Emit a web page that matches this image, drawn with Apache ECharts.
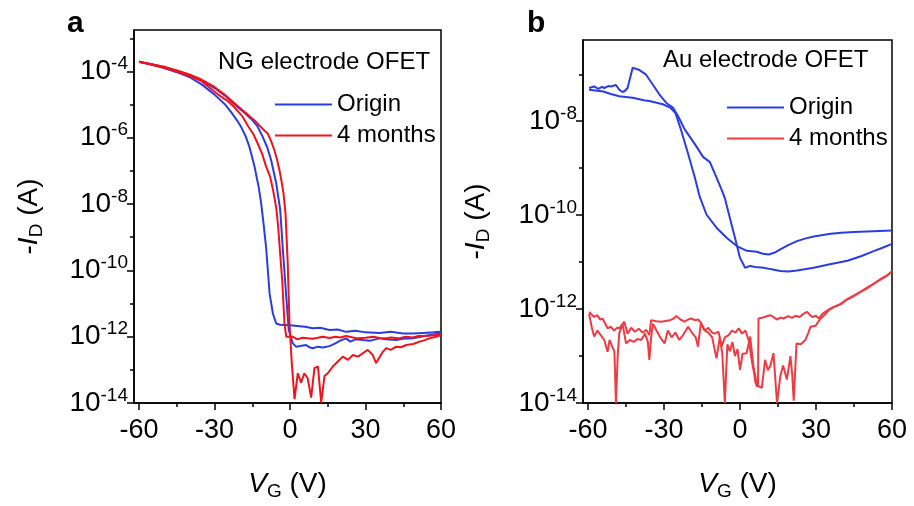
<!DOCTYPE html>
<html>
<head>
<meta charset="utf-8">
<script src="https://cdn.jsdelivr.net/npm/echarts@6/dist/echarts.min.js"></script>
<style>
  html, body { margin: 0; padding: 0; background: #ffffff; }
  #chart { width: 914px; height: 506px; }
</style>
</head>
<body>
<div id="chart"></div>
<script>
// Transfer curves (-I_D vs V_G) of OFETs, fresh ("Origin") and after 4 months.
const FONT = '"Liberation Sans", Arial, sans-serif';
const BLUE = '#2a3de0';
const RED_A = '#f0121c';
const RED_B = '#ee3b44';

// Axis ticks
const xTicks = [-60, -30, 0, 30, 60];
const xMinorTicks = [-45, -15, 15, 45];
const yTicksA = [1e-14, 1e-12, 1e-10, 1e-8, 1e-6, 1e-4];
const yMinorTicksA = [1e-13, 1e-11, 1e-9, 1e-7, 1e-5, 1e-3];
const yTicksB = [1e-14, 1e-12, 1e-10, 1e-8];
const yMinorTicksB = [1e-13, 1e-11, 1e-9, 1e-7];

// Panel a: NG electrode OFET, [V_G (V), -I_D (A)]
const ngOriginSweep1 = [[-60,1.95e-4],[-55,1.6e-4],[-50,1.26e-4],[-45,9.5e-5],[-40,6.8e-5],[-35,4.0e-5],[-30,2.0e-5],[-26,1.05e-5],[-23.4,5.9e-6],[-21,3.3e-6],[-19.4,2.1e-6],[-17.5,1.05e-6],[-16.1,5.2e-7],[-14.1,1.35e-7],[-12.5,3.4e-8],[-11.5,1.1e-8],[-10.5,2.5e-9],[-9.5,4.9e-10],[-8.1,1.95e-11],[-6.8,5.0e-12],[-5.5,2.5e-12],[-4,2.3e-12],[-2,2.25e-12],[0,2.2e-12],[3,2.1e-12],[6,2.0e-12],[9,1.8e-12],[12,1.85e-12],[15.7,1.6e-12],[19,1.65e-12],[22.3,1.4e-12],[26,1.5e-12],[30,1.35e-12],[35.6,1.3e-12],[40,1.4e-12],[45,1.25e-12],[48.8,1.25e-12],[53,1.3e-12],[57,1.35e-12],[60,1.4e-12]];
const ngOriginSweep2 = [[-60,1.95e-4],[-55,1.66e-4],[-50,1.35e-4],[-45,1.05e-4],[-40,7.9e-5],[-35,5.4e-5],[-30,3.16e-5],[-26,1.9e-5],[-22.1,1.02e-5],[-18,5.6e-6],[-15.4,3.7e-6],[-13,2.24e-6],[-10.8,1.05e-6],[-9,5.0e-7],[-7.5,2.1e-7],[-5.5,4.3e-8],[-3.9,6.8e-9],[-2.9,4.9e-10],[-1.5,1.6e-11],[-0.5,1.6e-12],[1.1,6.3e-13],[2.4,5.0e-13],[4,5.2e-13],[6.4,5.6e-13],[8,4.7e-13],[9.1,4.5e-13],[11,5.0e-13],[13,4.7e-13],[15.7,5.2e-13],[18,6.3e-13],[20,7.6e-13],[22.3,8.9e-13],[24,7.1e-13],[26,8.3e-13],[28.9,7.9e-13],[32,7.6e-13],[35.6,8.9e-13],[38,8.3e-13],[42.2,7.9e-13],[45,8.7e-13],[48.8,8.9e-13],[52,1.0e-12],[55.4,1.12e-12],[58,1.2e-12],[60,1.3e-12]];
const ngAgedSweep1 = [[-60,1.95e-4],[-55,1.62e-4],[-50,1.29e-4],[-45,1.0e-4],[-40,7.4e-5],[-35,5.0e-5],[-28.7,2.04e-5],[-25,1.32e-5],[-22.1,8.3e-6],[-19,4.5e-6],[-16.8,2.34e-6],[-14.5,1.26e-6],[-12.8,6.6e-7],[-11,3.16e-7],[-9.5,1.35e-7],[-8,7.1e-8],[-6.8,2.8e-8],[-5.5,7.9e-9],[-4.8,2.5e-9],[-3.1,4.9e-11],[-2.2,2.5e-12],[-1.5,1.0e-12],[-1,8.9e-13],[1,1.0e-12],[3,8.3e-13],[5,9.3e-13],[7,8.9e-13],[9,8.7e-13],[11,9.3e-13],[13,1.0e-12],[15.7,9.1e-13],[18,1.0e-12],[20,9.5e-13],[22.3,1.05e-12],[25,9.5e-13],[27,8.9e-13],[30,9.3e-13],[33,1.0e-12],[35.6,9.1e-13],[38,8.9e-13],[40,9.5e-13],[43,8.9e-13],[46,1.0e-12],[48.8,9.5e-13],[51,1.05e-12],[55.4,1.07e-12],[58,1.12e-12],[60,1.17e-12]];
const ngAgedSweep2 = [[-60,1.95e-4],[-55,1.66e-4],[-50,1.38e-4],[-45,1.07e-4],[-40,8.1e-5],[-35,5.6e-5],[-30,3.4e-5],[-26,2.0e-5],[-22.1,1.1e-5],[-18,6.0e-6],[-14.1,3.3e-6],[-11,1.9e-6],[-8.8,1.32e-6],[-7.5,7.9e-7],[-6.2,4.2e-7],[-5.2,2.24e-7],[-4.2,1.05e-7],[-3.4,5.0e-8],[-2.6,2.14e-8],[-1.8,5.4e-9],[-0.9,1.55e-10],[-0.2,2.5e-12],[0.7,1.6e-13],[1.8,1.3e-14],[3.1,7.9e-14],[4.4,4.1e-14],[5.7,7.9e-14],[7,5.6e-14],[8.4,1.45e-14],[9.7,1.12e-13],[11.1,1.26e-13],[12.4,1.02e-14],[13.7,6.5e-14],[15,7.9e-14],[17,1.26e-13],[19,1.78e-13],[21,2.5e-13],[23,2.0e-13],[25,2.8e-13],[27,2.5e-13],[28.9,3.16e-13],[30.9,4.0e-13],[32.9,2.8e-13],[34.2,1.6e-13],[36.9,3.5e-13],[38.2,4.5e-13],[40,4.0e-13],[42.2,5.0e-13],[44,4.8e-13],[46.2,5.6e-13],[49,6.0e-13],[51.4,7.1e-13],[53,7.6e-13],[55.4,8.9e-13],[58,1.0e-12],[60,1.12e-12]];

// Panel b: Au electrode OFET, [V_G (V), -I_D (A)]
const auOriginSweep1 = [[-59.6,5.1e-8],[-57.6,5.5e-8],[-56,4.9e-8],[-54.5,5.4e-8],[-53.6,5.1e-8],[-52,5.6e-8],[-51,5.5e-8],[-49,5.9e-8],[-47.7,4.7e-8],[-46.4,4.2e-8],[-45.5,4.4e-8],[-44.4,5.1e-8],[-43.5,7.9e-8],[-42.4,1.38e-7],[-39.7,1.23e-7],[-37.1,9.8e-8],[-34.4,6.0e-8],[-31.8,3.7e-8],[-29.1,2.45e-8],[-26.5,1.95e-8],[-24.5,1.29e-8],[-21.9,6.8e-9],[-17.9,3.3e-9],[-14.6,1.74e-9],[-11.9,1.35e-9],[-9.9,7.6e-10],[-7.2,3.4e-10],[-6,2.3e-10],[-4,8.7e-11],[-2,3.3e-11],[0,1.23e-11],[2,7.6e-12],[4,8.3e-12],[6,7.9e-12],[9.3,7.6e-12],[12,7.1e-12],[15.9,6.5e-12],[19,6.3e-12],[22.5,6.6e-12],[26,7.1e-12],[29.1,7.6e-12],[35,8.9e-12],[42.4,1.07e-11],[48,1.35e-11],[53,1.74e-11],[56,2.0e-11],[60,2.45e-11]];
const auOriginSweep2 = [[-59.6,4.7e-8],[-57,4.5e-8],[-54,4.3e-8],[-51,3.8e-8],[-47.7,3.4e-8],[-42.4,3.16e-8],[-38,2.8e-8],[-35.8,2.7e-8],[-30.5,2.3e-8],[-27.6,1.95e-8],[-25.5,1.5e-8],[-23.2,6.3e-9],[-20.5,2.04e-9],[-17.9,6.5e-10],[-15.9,2.45e-10],[-13.2,1.02e-10],[-9.3,5.4e-11],[-5.3,3.3e-11],[-1.3,2.2e-11],[2.7,1.74e-11],[6.6,1.66e-11],[9,1.51e-11],[11.3,1.45e-11],[13.5,1.58e-11],[15.9,1.86e-11],[19,2.3e-11],[22.5,2.8e-11],[26,3.2e-11],[29.1,3.5e-11],[35.8,4.0e-11],[40,4.2e-11],[45,4.4e-11],[50,4.5e-11],[55,4.6e-11],[60,4.7e-11]];
const auAgedSweep1 = [[-59.6,8.7e-13],[-58.5,7.6e-13],[-57.6,6.8e-13],[-56.3,7.4e-13],[-55.3,6.0e-13],[-54.3,6.3e-13],[-53.3,5.0e-13],[-52.3,3.9e-13],[-51,4.2e-13],[-49.7,3.5e-13],[-48.5,4.0e-13],[-47.7,3.9e-13],[-46.5,4.7e-13],[-45.7,5.4e-13],[-44.4,3.0e-13],[-43,4.0e-13],[-41.5,3.3e-13],[-40,3.8e-13],[-38.5,3.16e-13],[-37,3.6e-13],[-35.8,2.8e-13],[-35.1,5.8e-13],[-33,5.5e-13],[-31.1,5.4e-13],[-29.5,5.6e-13],[-27.6,5.8e-13],[-26.2,6.3e-13],[-25.2,7.1e-13],[-23.5,6.0e-13],[-21.9,5.4e-13],[-20.5,6.0e-13],[-19.2,6.3e-13],[-17.8,5.8e-13],[-16.5,6.0e-13],[-15.3,5.0e-13],[-13.9,3.5e-13],[-12.5,4.0e-13],[-11,3.16e-13],[-9.9,3.0e-13],[-8.5,3.3e-13],[-7.2,1.6e-13],[-6,2.5e-13],[-4.5,2.8e-13],[-3.2,3.5e-13],[-1.8,3.16e-13],[-0.5,3.9e-13],[0.8,3.0e-13],[2.1,3.5e-13],[3.4,2.2e-13],[4.8,7.1e-14],[5.5,4.5e-14],[6.1,2.7e-14],[6.8,2.2e-14],[7.1,2.5e-14],[7.3,6.3e-13],[9,6.6e-13],[11.9,7.4e-13],[13,6.9e-13],[14.5,6.0e-13],[16,6.6e-13],[17.2,6.3e-13],[19,7.1e-13],[20.5,6.5e-13],[22,7.2e-13],[23.5,6.8e-13],[25,7.9e-13],[26.5,8.7e-13],[27.5,7.6e-13],[28.5,6.8e-13],[30,7.2e-13],[31.1,6.3e-13],[32.5,7.9e-13],[34.4,9.3e-13],[36,1.05e-12],[39.7,1.29e-12],[42,1.58e-12],[45,1.95e-12],[47.5,2.34e-12],[50.3,2.9e-12],[53,3.55e-12],[55.6,4.4e-12],[58,5.2e-12],[60,6.3e-12]];
const auAgedSweep2 = [[-59.6,7.9e-13],[-58.5,4.0e-13],[-57.6,2.6e-13],[-56.3,3.5e-13],[-55,2.8e-13],[-53.6,2.2e-13],[-52.3,1.23e-13],[-51.5,2.2e-13],[-50.5,1.6e-13],[-49.6,1.26e-13],[-49,1.0e-14],[-48.3,1.0e-13],[-47.7,3.0e-13],[-46.4,4.9e-13],[-45,1.86e-13],[-43.5,2.2e-13],[-42,2.0e-13],[-40.5,2.3e-13],[-39,2.2e-13],[-37.5,3.0e-13],[-36.4,2.0e-13],[-35.8,8.3e-14],[-35.1,2.5e-13],[-34.4,4.9e-13],[-33,3.5e-13],[-31.5,2.5e-13],[-29.8,1.86e-13],[-28.5,3.5e-13],[-27,2.5e-13],[-25.5,3.16e-13],[-24,2.2e-13],[-22.5,2.8e-13],[-20.5,4.2e-13],[-19,3.16e-13],[-17.5,2.5e-13],[-16.6,1.58e-13],[-15.5,4.9e-13],[-14,3.5e-13],[-12.5,3.16e-13],[-11,2.5e-13],[-9.3,8.9e-14],[-8,2.5e-13],[-7,1.12e-13],[-6,1.0e-14],[-5,1.78e-13],[-4,1.26e-13],[-3,2.0e-13],[-2,1.0e-13],[-1,1.41e-13],[0,5.1e-14],[1,1.12e-13],[2.6,1.15e-13],[4,2.6e-13],[5.3,6.0e-14],[6.3,3.16e-14],[7.3,2.3e-14],[8.6,2.1e-14],[9.9,8.3e-14],[11,5.0e-14],[12,6.3e-14],[13.2,1.15e-13],[14.6,1.0e-14],[15.9,3.7e-14],[17,6.3e-14],[18.5,3.16e-14],[19.9,1.0e-13],[20.6,4.0e-14],[21.2,1.12e-14],[22.3,1.86e-13],[24,1.78e-13],[25.8,2.2e-13],[27,3.16e-13],[27.8,4.2e-13],[29.8,4.4e-13],[31.8,6.3e-13],[33.5,7.6e-13],[35,9.5e-13],[37,1.1e-12],[39.7,1.26e-12],[42,1.58e-12],[45,1.9e-12],[47.5,2.3e-12],[50.3,2.8e-12],[53,3.5e-12],[55.6,4.3e-12],[58,5.1e-12],[60,6.5e-12]];

const chart = echarts.init(document.getElementById('chart'), null, { renderer: 'canvas' });

function powLabel(v) {
  const e = Math.round(Math.log10(v));
  return '{b|10}{s|' + e + '}';
}

const powRich = {
  b: { fontFamily: FONT, fontSize: 28, color: '#000', lineHeight: 34 },
  s: { fontFamily: FONT, fontSize: 19, color: '#000', lineHeight: 12, verticalAlign: 'top' }
};

const titleRich = {
  i: { fontFamily: FONT, fontSize: 28, fontStyle: 'italic', color: '#000', lineHeight: 34 },
  s: { fontFamily: FONT, fontSize: 19, color: '#000', lineHeight: 14, verticalAlign: 'bottom' },
  t: { fontFamily: FONT, fontSize: 28, color: '#000', lineHeight: 34 }
};

function xAxisPair(gridIndex) {
  return [
    {
      type: 'value', gridIndex, min: -62, max: 60,
      name: '{i|V}{s|G}{t| (V)}', nameLocation: 'middle', nameGap: 64,
      nameTextStyle: { rich: titleRich },
      axisLine: { show: true, onZero: false, lineStyle: { color: '#000', width: 1.5 } },
      axisTick: { show: true, inside: false, length: 7, customValues: xTicks, lineStyle: { color: '#000', width: 1.5 } },
      axisLabel: { fontFamily: FONT, color: '#000', fontSize: 27, margin: 14, customValues: xTicks },
      splitLine: { show: false }
    },
    {
      type: 'value', gridIndex, min: -62, max: 60, position: 'bottom',
      axisLine: { show: false, onZero: false },
      axisTick: { show: true, inside: false, length: 4, customValues: xMinorTicks, lineStyle: { color: '#000', width: 1.5 } },
      axisLabel: { show: false },
      splitLine: { show: false }
    }
  ];
}

function yAxisPair(gridIndex, max, ticks, minor, nameGap) {
  return [
    {
      type: 'log', logBase: 10, gridIndex, min: 1e-14, max, position: 'left',
      name: '{t|-}{i|I}{s|D}{t| (A)}', nameLocation: 'middle', nameGap, nameRotate: 90,
      nameTextStyle: { rich: titleRich },
      axisLine: { show: true, onZero: false, lineStyle: { color: '#000', width: 1.5 } },
      axisTick: { show: true, inside: false, length: 7, customValues: ticks, lineStyle: { color: '#000', width: 1.5 } },
      axisLabel: { margin: 6, customValues: ticks, formatter: powLabel, rich: powRich },
      splitLine: { show: false }
    },
    {
      type: 'log', logBase: 10, gridIndex, min: 1e-14, max, position: 'left',
      axisLine: { show: false, onZero: false },
      axisTick: { show: true, inside: false, length: 4, customValues: minor, lineStyle: { color: '#000', width: 1.5 } },
      axisLabel: { show: false },
      splitLine: { show: false }
    }
  ];
}

function curve(name, data, color, xi, yi) {
  return {
    type: 'line', name, data, xAxisIndex: xi, yAxisIndex: yi,
    symbol: 'none', smooth: false, clip: true,
    lineStyle: { color, width: 2 }, itemStyle: { color },
    emphasis: { disabled: true }
  };
}

const legendBase = {
  orient: 'vertical', itemWidth: 57, itemHeight: 2, itemGap: 6,
  selectedMode: false, icon: 'rect',
  textStyle: { fontFamily: FONT, fontSize: 24, color: '#000', lineHeight: 25 }
};

const option = {
  animation: false,
  backgroundColor: '#ffffff',
  grid: [
    { left: 134, top: 30, width: 307, height: 377, show: true, borderColor: '#000', borderWidth: 1.5, containLabel: false },
    { left: 583, top: 40, width: 309, height: 367, show: true, borderColor: '#000', borderWidth: 1.5, containLabel: false }
  ],
  xAxis: [...xAxisPair(0), ...xAxisPair(1)],
  yAxis: [
    ...yAxisPair(0, Math.pow(10, -2.75), yTicksA, yMinorTicksA, 88),
    ...yAxisPair(1, Math.pow(10, -6.27), yTicksB, yMinorTicksB, 90)
  ],
  legend: [
    { ...legendBase, left: 270, top: 87,
      data: [{ name: 'Origin', itemStyle: { color: BLUE } }, { name: '4 months', itemStyle: { color: RED_A } }] },
    { ...legendBase, left: 722, top: 90,
      data: [{ name: 'Origin', itemStyle: { color: BLUE } }, { name: '4 months', itemStyle: { color: RED_B } }] }
  ],
  graphic: [
    { type: 'text', x: 67, y: 9, style: { text: 'a', fontFamily: FONT, fontSize: 30, fontWeight: 'bold', fill: '#000' } },
    { type: 'text', x: 527, y: 9, style: { text: 'b', fontFamily: FONT, fontSize: 30, fontWeight: 'bold', fill: '#000' } },
    { type: 'text', x: 218, y: 62, style: { text: 'NG electrode OFET', fontFamily: FONT, fontSize: 24, fill: '#000', verticalAlign: 'middle' } },
    { type: 'text', x: 663, y: 60, style: { text: 'Au electrode OFET', fontFamily: FONT, fontSize: 24, fill: '#000', verticalAlign: 'middle' } }
  ],
  series: [
    curve('Origin', ngOriginSweep1, BLUE, 0, 0),
    curve('Origin', ngOriginSweep2, BLUE, 0, 0),
    curve('4 months', ngAgedSweep1, RED_A, 0, 0),
    curve('4 months', ngAgedSweep2, RED_A, 0, 0),
    curve('Origin', auOriginSweep1, BLUE, 2, 2),
    curve('Origin', auOriginSweep2, BLUE, 2, 2),
    curve('4 months', auAgedSweep1, RED_B, 2, 2),
    curve('4 months', auAgedSweep2, RED_B, 2, 2)
  ]
};

chart.setOption(option);
</script>
</body>
</html>
